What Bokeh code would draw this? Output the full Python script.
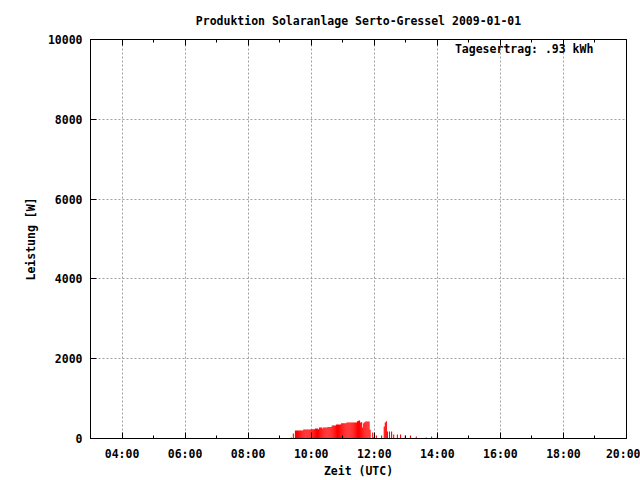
from bokeh.plotting import figure
from bokeh.models import Range1d, FixedTicker, LinearAxis, Label, ColumnDataSource
from bokeh.embed import file_html
from bokeh.resources import INLINE

# ---- data ----
sample_minute = [562, 566, 570, 572, 574, 576, 578, 580, 582, 584,
                 586, 588, 590, 592, 594, 596, 598, 600, 602, 604,
                 606, 608, 610, 612, 614, 616, 618, 620, 622, 624,
                 626, 628, 630, 632, 634, 636, 638, 640, 642, 644,
                 646, 648, 650, 652, 654, 656, 658, 660, 662, 664,
                 666, 668, 670, 672, 674, 676, 678, 680, 682, 684,
                 686, 688, 690, 692, 694, 696, 698, 700, 702, 704,
                 706, 708, 710, 712, 717, 719, 724, 734, 739, 741,
                 743, 745, 749, 753, 757, 764, 770, 779, 789, 800,
                 819, 829, 840]
power_w = [25, 125, 200, 200, 200, 200, 200, 200, 200, 200,
           225, 225, 225, 225, 225, 225, 225, 230, 230, 230,
           230, 250, 250, 250, 230, 275, 275, 275, 250, 275,
           275, 275, 275, 290, 290, 290, 290, 325, 325, 325,
           325, 350, 350, 350, 350, 350, 380, 380, 380, 380,
           380, 400, 400, 400, 400, 400, 400, 400, 400, 400,
           400, 430, 445, 450, 400, 410, 275, 380, 410, 425,
           425, 425, 425, 220, 150, 30, 75, 75, 300, 400,
           430, 175, 175, 175, 100, 100, 100, 75, 75, 50,
           25, 50, 50]

x_tick_hours = [4, 6, 8, 10, 12, 14, 16, 18, 20]
x_tick_labels = ["04:00", "06:00", "08:00", "10:00", "12:00", "14:00", "16:00", "18:00", "20:00"]
x_minor_hours = [3, 5, 7, 9, 11, 13, 15, 17, 19]
y_ticks = [0, 2000, 4000, 6000, 8000, 10000]

title_text = "Produktion Solaranlage Serto-Gressel 2009-01-01"
x_label = "Zeit (UTC)"
y_label = "Leistung [W]"
yield_text = "Tagesertrag: .93 kWh"

FONT = "DejaVu Sans Mono"
FS = "11.5px"

src = ColumnDataSource(dict(hour=[m / 60.0 for m in sample_minute], watt=power_w))

p = figure(width=640, height=480, output_backend="svg", toolbar_location=None,
           x_range=Range1d(3, 20), y_range=Range1d(0, 10000),
           min_border_left=90, min_border_right=14, min_border_top=39, min_border_bottom=42)

p.background_fill_color = "white"
p.border_fill_color = "white"
p.outline_line_color = "black"
p.outline_line_width = 1
p.outline_line_alpha = 1

p.vbar(x="hour", top="watt", bottom=0, width=2.1 / 60.0, source=src,
       fill_color="#ff0000", line_color=None)

xt = FixedTicker(ticks=x_tick_hours, minor_ticks=x_minor_hours)
p.xaxis.ticker = xt
p.xaxis.major_label_overrides = {h: l for h, l in zip(x_tick_hours, x_tick_labels)}
p.yaxis.ticker = FixedTicker(ticks=y_ticks, minor_ticks=[])

for ax in (p.xaxis[0], p.yaxis[0]):
    ax.axis_line_color = "black"
    ax.major_tick_line_color = "black"
    ax.minor_tick_line_color = "black"
    ax.major_tick_in = 6
    ax.major_tick_out = 0
    ax.minor_tick_in = 3
    ax.minor_tick_out = 0
    ax.major_label_text_font = FONT
    ax.major_label_text_font_size = FS
    ax.major_label_text_font_style = "bold"
    ax.major_label_text_color = "black"
    ax.axis_label_text_font = FONT
    ax.axis_label_text_font_size = FS
    ax.axis_label_text_font_style = "bold"
    ax.axis_label_text_color = "black"

p.xaxis.axis_label = x_label
p.xaxis.major_label_standoff = 8
p.xaxis.axis_label_standoff = 0
p.yaxis.axis_label = y_label
p.yaxis.major_label_standoff = 8
p.yaxis.axis_label_standoff = 7

top = LinearAxis(ticker=xt, major_label_standoff=0,
                 major_label_overrides={h: "" for h in x_tick_hours},
                 major_tick_in=6, major_tick_out=0, minor_tick_in=3, minor_tick_out=0,
                 axis_line_color="black", major_tick_line_color="black",
                 minor_tick_line_color="black")
p.add_layout(top, "above")

for g in (p.xgrid[0], p.ygrid[0]):
    g.grid_line_color = "#a0a0a0"
    g.grid_line_dash = "2 2"
    g.grid_line_width = 1

p.title.text = title_text
p.title.align = "center"
p.title.text_font = FONT
p.title.text_font_size = FS
p.title.text_font_style = "bold"
p.title.text_color = "black"
p.title.standoff = 23

p.add_layout(Label(x=18.95, y=9770, text=yield_text, text_align="right",
                   text_baseline="middle", text_font=FONT, text_font_size=FS,
                   text_font_style="bold", text_color="black"))

open("out.html", "w").write(file_html(p, INLINE))
